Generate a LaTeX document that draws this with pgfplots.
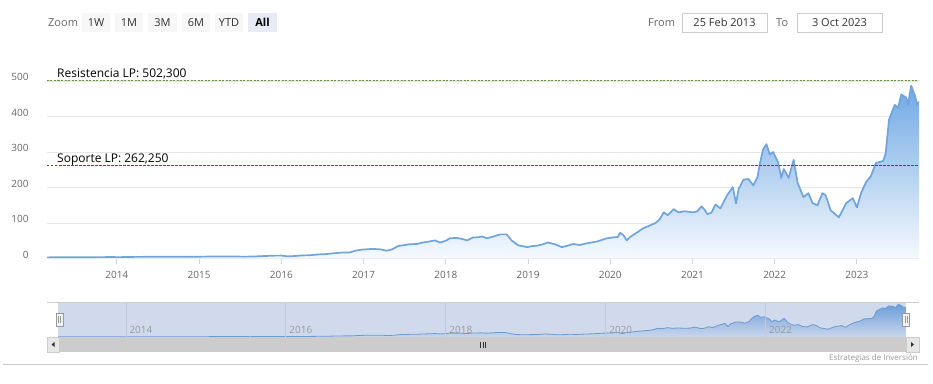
\documentclass[border=0pt]{standalone}
\usepackage{fontspec}
\setmainfont{Open Sans}
\usepackage{pgfplots}
\pgfplotsset{compat=1.18}
\usepackage{pgfplotstable}

\definecolor{lbl}{HTML}{666666}
\definecolor{navlbl}{HTML}{999999}
\definecolor{gridc}{HTML}{E6E6E6}
\definecolor{navgrid}{RGB}{192,201,219}
\definecolor{axc}{HTML}{CCD6EB}
\definecolor{serline}{RGB}{112,164,218}
\definecolor{sertop}{RGB}{112,168,228}
\definecolor{sermid}{RGB}{180,211,242}
\definecolor{serbot}{RGB}{246,250,254}
\definecolor{resc}{RGB}{104,150,64}
\definecolor{supc}{RGB}{185,30,40}
\definecolor{maskc}{RGB}{102,133,194}
\definecolor{btn}{HTML}{F7F7F7}
\definecolor{btnsel}{HTML}{E6EBF5}
\definecolor{txt}{HTML}{333333}
\definecolor{cc}{HTML}{CCCCCC}
\definecolor{c99}{HTML}{999999}
\definecolor{cf2}{HTML}{F2F2F2}
\definecolor{ce6}{HTML}{E6E6E6}

\pgfplotstableread{
t v
2013.15 3.2
2013.30 3.4
2013.45 3.6
2013.60 3.5
2013.75 3.8
2013.90 4.0
2014.05 3.9
2014.20 4.5
2014.35 4.7
2014.50 4.9
2014.65 4.7
2014.80 4.9
2014.95 5.0
2015.10 5.4
2015.25 5.5
2015.40 5.6
2015.55 5.2
2015.65 5.5
2015.75 6.5
2015.90 8.0
2016.00 8.2
2016.07 6.3
2016.15 6.8
2016.25 8.5
2016.35 9.2
2016.45 11.5
2016.55 12.5
2016.65 15
2016.75 17
2016.83 17
2016.90 22
2016.98 25
2017.10 27
2017.20 26
2017.28 22
2017.35 26
2017.42 35
2017.50 38
2017.56 40
2017.65 41
2017.72 45
2017.80 48
2017.87 51
2017.93 45
2018.00 50
2018.05 57
2018.13 58
2018.20 55
2018.26 51
2018.33 59
2018.40 60
2018.44 62
2018.50 57
2018.58 62
2018.66 68
2018.74 68
2018.80 51
2018.88 37
2018.95 34
2018.99 32
2019.05 35
2019.11 36
2019.18 40
2019.24 45
2019.33 40
2019.41 32
2019.48 36
2019.55 41
2019.63 38
2019.72 43
2019.84 48
2019.96 57
2020.05 60
2020.09 60
2020.12 72
2020.16 66
2020.20 51
2020.25 62
2020.33 74
2020.40 85
2020.47 92
2020.55 100
2020.60 110
2020.65 130
2020.70 122
2020.77 139
2020.83 130
2020.90 133
2021.01 130
2021.06 133
2021.11 147
2021.15 137
2021.18 125
2021.23 129
2021.28 152
2021.34 141
2021.42 178
2021.49 201
2021.53 155
2021.56 195
2021.62 222
2021.68 224
2021.74 206
2021.79 229
2021.82 268
2021.86 308
2021.90 322
2021.94 293
2021.98 300
2022.04 272
2022.08 227
2022.11 252
2022.17 227
2022.23 278
2022.28 212
2022.35 173
2022.41 184
2022.46 156
2022.52 150
2022.58 184
2022.62 178
2022.68 136
2022.78 116
2022.87 156
2022.95 170
2023.00 144
2023.05 184
2023.11 215
2023.17 232
2023.23 269
2023.32 275
2023.35 297
2023.39 391
2023.46 433
2023.50 425
2023.54 462
2023.60 453
2023.62 433
2023.66 487
2023.71 456
2023.73 433
2023.755 442
}\stock

\begin{document}
\begin{tikzpicture}
\path[use as bounding box] (0pt,0pt) rectangle (933pt,383pt);

% ---- range selector ----
\node[anchor=base west, inner sep=0, font=\fontsize{11}{13}\selectfont, text=lbl] at (48pt,356pt) {Zoom};
\foreach \xa/\xb/\lab in {82/110/1W,115/143/1M,148/177/3M,182/210/6M,215/243/YTD}{
  \fill[btn] (\xa pt,351pt) rectangle (\xb pt,370pt);
  \node[anchor=base, inner sep=0, font=\fontsize{11}{13}\selectfont, text=txt] at ({(\xa+\xb)/2*1pt},356pt) {\lab};
}
\fill[btnsel] (248pt,351pt) rectangle (277pt,370pt);
\node[anchor=base, inner sep=0, font=\fontsize{11}{13}\selectfont\bfseries, text=black] at (262.5pt,356pt) {All};

\node[anchor=base west, inner sep=0, font=\fontsize{11}{13}\selectfont, text=lbl] at (648pt,356pt) {From};
\draw[draw=cc, fill=white, line width=0.8pt] (682pt,351pt) rectangle (767pt,370pt);
\node[anchor=base, inner sep=0, font=\fontsize{11}{13}\selectfont, text=txt] at (724.5pt,356pt) {25 Feb 2013};
\node[anchor=base west, inner sep=0, font=\fontsize{11}{13}\selectfont, text=lbl] at (776pt,356pt) {To};
\draw[draw=cc, fill=white, line width=0.8pt] (797pt,351pt) rectangle (882pt,370pt);
\node[anchor=base, inner sep=0, font=\fontsize{11}{13}\selectfont, text=txt] at (839.5pt,356pt) {3 Oct 2023};

% ---- main chart ----
\begin{axis}[
  at={(47pt,124.5pt)}, anchor=south west, scale only axis,
  width=872pt, height=191.7pt,
  xmin=2013.15, xmax=2023.755, ymin=0, ymax=540,
  axis x line*=bottom, axis y line*=left,
  x axis line style={draw=axc, line width=1pt, -},
  y axis line style={draw=none},
  xtick={2014,2015,...,2023}, ytick={0,100,...,500},
  xtick style={draw=axc, line width=1pt}, ytick style={draw=none},
  tick align=outside, major tick length=5pt,
  ymajorgrids, grid style={draw=gridc, line width=1pt},
  ticklabel style={font=\fontsize{10}{12}\selectfont, text=lbl},
  yticklabel style={anchor=east, xshift=-10pt, yshift=4pt},
  xticklabel style={anchor=north, yshift=-4pt},
  /pgf/number format/.cd, 1000 sep={}, assume math mode=true,
]
\addplot[draw=none, top color=sertop, middle color=sermid, bottom color=serbot] table[x=t,y=v]{\stock} \closedcycle;
\addplot[serline, line width=1.7pt, line join=round] table[x=t,y=v]{\stock};
\addplot[resc, line width=1pt, dash pattern=on 2pt off 1.5pt] coordinates {(2013.15,502.3) (2023.755,502.3)};
\addplot[supc, line width=1pt, dash pattern=on 2.5pt off 1.5pt] coordinates {(2013.15,262.25) (2023.755,262.25)};
\node[anchor=base west, inner sep=0, font=\fontsize{12}{14}\selectfont, text=black] at ([xshift=10pt,yshift=2.5pt]axis cs:2013.15,502.3) {Resistencia LP: 502,300};
\node[anchor=base west, inner sep=0, font=\fontsize{12}{14}\selectfont, text=black] at ([xshift=10pt,yshift=3pt]axis cs:2013.15,262.25) {Soporte LP: 262,250};
\end{axis}

% ---- navigator ----
\begin{axis}[
  at={(58pt,46pt)}, anchor=south west, scale only axis,
  width=848pt, height=35pt,
  xmin=2013.15, xmax=2023.755, ymin=0, ymax=520,
  axis on top,
  axis line style={draw=none},
  ytick=\empty, xtick={2014,2016,...,2022},
  xtick style={draw=none},
  xmajorgrids, grid style={draw=navgrid, line width=0.8pt},
  xticklabel style={anchor=south west, font=\fontsize{10}{12}\selectfont, text=navlbl},
  /pgf/number format/.cd, 1000 sep={}, assume math mode=true,
]
\addplot[draw=none, top color=sertop, middle color=sermid, bottom color=serbot] table[x=t,y=v]{\stock} \closedcycle;
\addplot[serline, line width=0.8pt] table[x=t,y=v]{\stock};
\fill[maskc, opacity=0.3] (rel axis cs:0,0) rectangle (rel axis cs:1,1);
\end{axis}

% navigator outline
\draw[draw=cc, line width=1pt] (47pt,81pt) -- (919pt,81pt);

% handles
\foreach \hc in {59.5,906}{
  \draw[fill=cf2, draw=c99, line width=0.7pt] ({(\hc-3.5)*1pt},57pt) rectangle ({(\hc+3.5)*1pt},70pt);
  \draw[draw=c99, line width=0.6pt] ({(\hc-1)*1pt},60pt) -- ({(\hc-1)*1pt},67pt);
  \draw[draw=c99, line width=0.6pt] ({(\hc+1)*1pt},60pt) -- ({(\hc+1)*1pt},67pt);
}

% scrollbar
\fill[cf2] (47pt,31pt) rectangle (919pt,46pt);
\fill[cc] (59pt,31pt) rectangle (906pt,46pt);
\draw[fill=ce6, draw=cc, line width=0.6pt] (47pt,31pt) rectangle (59pt,46pt);
\draw[fill=ce6, draw=cc, line width=0.6pt] (906pt,31pt) rectangle (919pt,46pt);
\fill[txt] (51.5pt,38.5pt) -- (54.5pt,41pt) -- (54.5pt,36pt) -- cycle;
\fill[txt] (914pt,38.5pt) -- (911pt,41pt) -- (911pt,36pt) -- cycle;
\foreach \gx in {480.5,483,485.5}{
  \draw[txt, line width=0.6pt] (\gx pt,35.5pt) -- (\gx pt,41.5pt);
}

% credits and bottom rule
\node[anchor=base east, inner sep=0, font=\fontsize{8}{9}\selectfont, text=navlbl] at (918pt,23pt) {Estrategias de Inversión};
\draw[draw=cc, line width=1pt] (3pt,18.5pt) -- (928pt,18.5pt);
\end{tikzpicture}
\end{document}
